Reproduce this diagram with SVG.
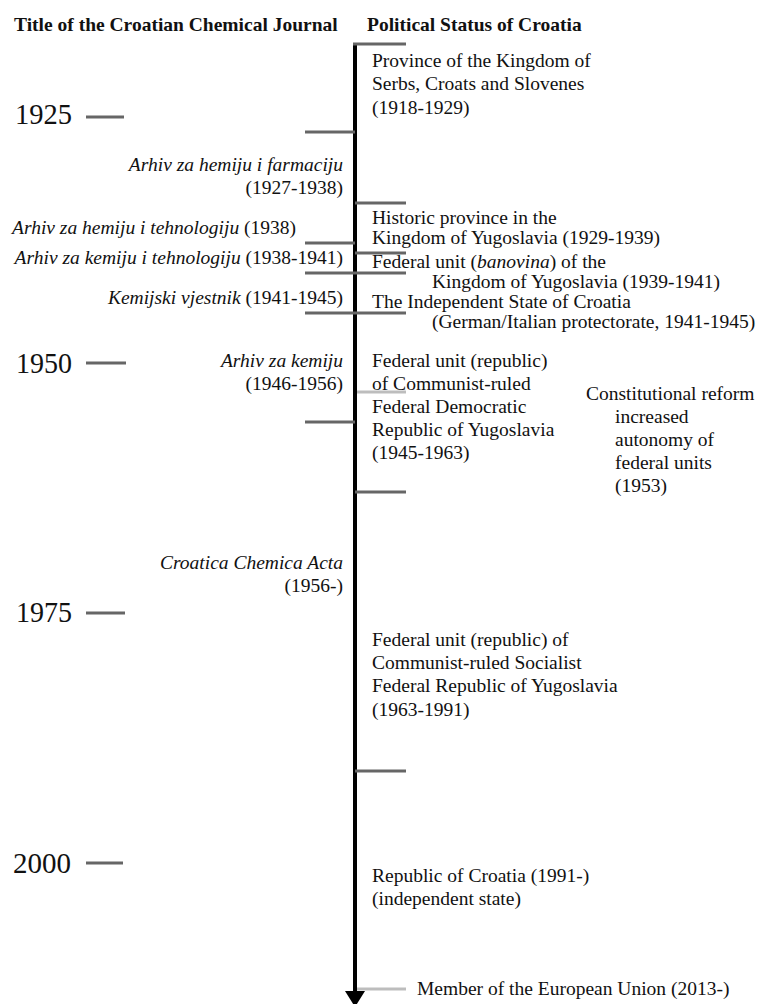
<svg xmlns="http://www.w3.org/2000/svg" width="761" height="1004" viewBox="0 0 761 1004">
<style>
text{font-family:"Liberation Serif","Times New Roman",serif;fill:#111;}
.h{font-weight:bold;font-size:19.5px;}
.t{font-size:19.5px;}
.y{font-size:30px;}
.r{text-anchor:end;}
.i{font-style:italic;}
.tk{stroke:#666;stroke-width:3;}
.lt{stroke:#bdbdbd;stroke-width:3;}
.ax{stroke:#000;stroke-width:4;}
</style>
<rect width="761" height="1004" fill="#fff"/>
<g id="headers">
<text class="h" x="14" y="31">Title of the Croatian Chemical Journal</text>
<text class="h" x="367" y="31">Political Status of Croatia</text>
</g>
<g id="years">
<text class="y" x="15" y="124" textLength="57" lengthAdjust="spacingAndGlyphs">1925</text>
<text class="y" x="16" y="373" textLength="56" lengthAdjust="spacingAndGlyphs">1950</text>
<text class="y" x="16" y="622" textLength="56" lengthAdjust="spacingAndGlyphs">1975</text>
<text class="y" x="13" y="873" textLength="58" lengthAdjust="spacingAndGlyphs">2000</text>
<line class="tk" x1="86" y1="117" x2="124" y2="117"/>
<line class="tk" x1="86" y1="363" x2="126" y2="363"/>
<line class="tk" x1="86" y1="613" x2="125" y2="613"/>
<line class="tk" x1="86" y1="863" x2="123" y2="863"/>
</g>
<g id="connectors">
<line class="ax" x1="355" y1="43" x2="355" y2="992"/>
<polygon points="345,991 365,991 355,1007" fill="#000"/>
<line class="tk" x1="353" y1="44" x2="406" y2="44"/>
<line class="tk" x1="305" y1="132" x2="355" y2="132"/>
<line class="tk" x1="355" y1="203" x2="406" y2="203"/>
<line class="tk" x1="305" y1="243" x2="355" y2="243"/>
<line class="tk" x1="355" y1="253" x2="406" y2="253"/>
<line class="tk" x1="305" y1="273" x2="406" y2="273"/>
<line class="tk" x1="305" y1="313" x2="406" y2="313"/>
<line class="lt" x1="357" y1="392" x2="406" y2="392"/>
<line class="tk" x1="305" y1="422" x2="355" y2="422"/>
<line class="tk" x1="355" y1="492" x2="406" y2="492"/>
<line class="tk" x1="355" y1="771" x2="406" y2="771"/>
<line class="lt" x1="357" y1="989" x2="406" y2="989"/>
</g>
<g id="journal-1">
<text class="t r" x="343" y="171"><tspan class="i">Arhiv za hemiju i farmaciju</tspan></text>
<text class="t r" x="343" y="194">(1927-1938)</text>
</g>
<g id="journal-2">
<text class="t" x="12" y="234"><tspan class="i">Arhiv za hemiju i tehnologiju</tspan> (1938)</text>
</g>
<g id="journal-3">
<text class="t r" x="343" y="264"><tspan class="i">Arhiv za kemiju i tehnologiju</tspan> (1938-1941)</text>
</g>
<g id="journal-4">
<text class="t r" x="343" y="304"><tspan class="i">Kemijski vjestnik</tspan> (1941-1945)</text>
</g>
<g id="journal-5">
<text class="t r" x="343" y="367"><tspan class="i">Arhiv za kemiju</tspan></text>
<text class="t r" x="343" y="390">(1946-1956)</text>
</g>
<g id="journal-6">
<text class="t r" x="343" y="569"><tspan class="i">Croatica Chemica Acta</tspan></text>
<text class="t r" x="343" y="592">(1956-)</text>
</g>
<g id="status-1">
<text class="t" x="372" y="67">Province of the Kingdom of</text>
<text class="t" x="372" y="90">Serbs, Croats and Slovenes</text>
<text class="t" x="372" y="114">(1918-1929)</text>
</g>
<g id="status-2">
<text class="t" x="372" y="224">Historic province in the</text>
<text class="t" x="372" y="244">Kingdom of Yugoslavia (1929-1939)</text>
</g>
<g id="status-3">
<text class="t" x="372" y="268">Federal unit (<tspan class="i">banovina</tspan>) of the</text>
<text class="t" x="432" y="288">Kingdom of Yugoslavia (1939-1941)</text>
</g>
<g id="status-4">
<text class="t" x="372" y="308">The Independent State of Croatia</text>
<text class="t" x="432" y="328">(German/Italian protectorate, 1941-1945)</text>
</g>
<g id="status-5">
<text class="t" x="372" y="367">Federal unit (republic)</text>
<text class="t" x="372" y="390">of Communist-ruled</text>
<text class="t" x="372" y="413">Federal Democratic</text>
<text class="t" x="372" y="436">Republic of Yugoslavia</text>
<text class="t" x="372" y="459">(1945-1963)</text>
</g>
<g id="status-reform">
<text class="t" x="586" y="400">Constitutional reform</text>
<text class="t" x="615" y="423">increased</text>
<text class="t" x="615" y="446">autonomy of</text>
<text class="t" x="615" y="469">federal units</text>
<text class="t" x="615" y="492">(1953)</text>
</g>
<g id="status-6">
<text class="t" x="372" y="646">Federal unit (republic) of</text>
<text class="t" x="372" y="669">Communist-ruled Socialist</text>
<text class="t" x="372" y="692">Federal Republic of Yugoslavia</text>
<text class="t" x="372" y="716">(1963-1991)</text>
</g>
<g id="status-7">
<text class="t" x="372" y="882">Republic of Croatia (1991-)</text>
<text class="t" x="372" y="905">(independent state)</text>
</g>
<g id="status-8">
<text class="t" x="417" y="995">Member of the European Union (2013-)</text>
</g>
</svg>
